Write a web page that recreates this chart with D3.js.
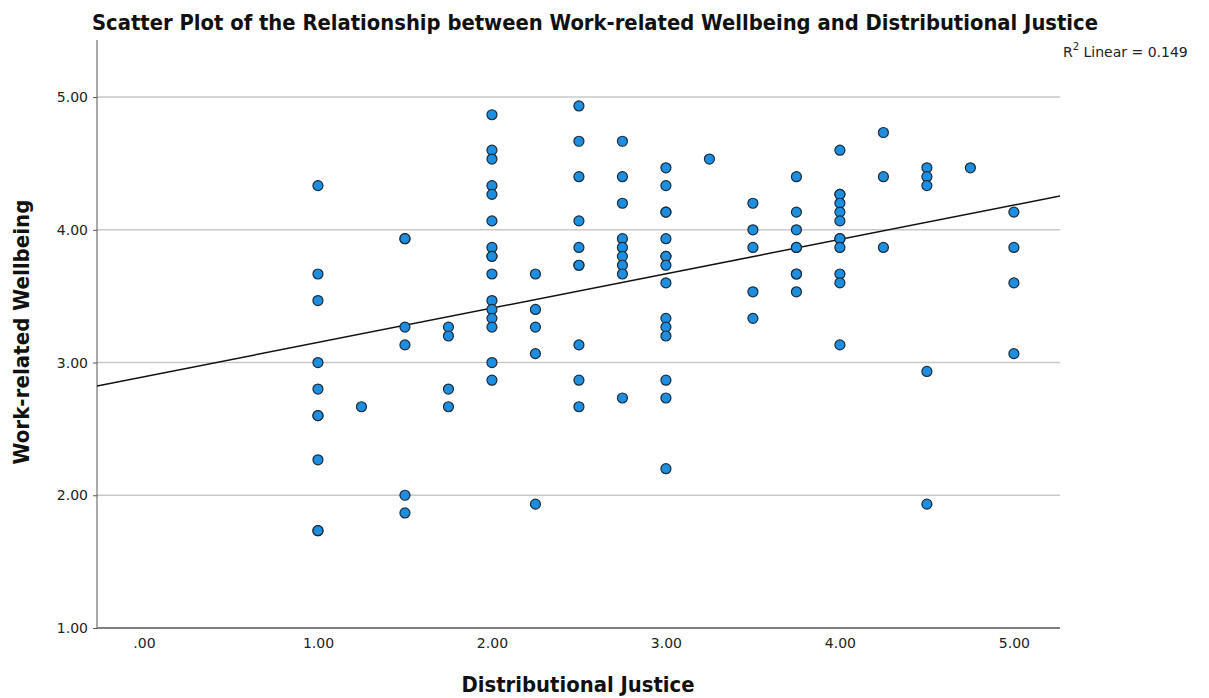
<!DOCTYPE html>
<html>
<head>
<meta charset="utf-8">
<script src="https://cdn.jsdelivr.net/npm/d3@7"></script>
<style>
  html, body { margin: 0; padding: 0; background: #fff; }
  svg { display: block; }
</style>
</head>
<body>
<svg id="chart" width="1209" height="698"></svg>
<script>
// ---- Data ----
const chartTitle = "Scatter Plot of the Relationship between Work-related Wellbeing and Distributional Justice";
const xLabel = "Distributional Justice";
const yLabel = "Work-related Wellbeing";
const r2Text = "0.149";

const xTicks = [0, 1, 2, 3, 4, 5];
const xTickLabels = [".00", "1.00", "2.00", "3.00", "4.00", "5.00"];
const yTicks = [1, 2, 3, 4, 5];
const yTickLabels = ["1.00", "2.00", "3.00", "4.00", "5.00"];
const gridValues = [2, 3, 4, 5];

// Distributional Justice levels and the Wellbeing scores observed at each level
const justiceLevels = [1.00, 1.25, 1.50, 1.75, 2.00, 2.25, 2.50, 2.75, 3.00, 3.25, 3.50, 3.75, 4.00, 4.25, 4.50, 4.75, 5.00];
const wellbeingAt100 = [4.333, 3.667, 3.467, 3.000, 2.800, 2.600, 2.600, 2.267, 1.733, 1.733];
const wellbeingAt125 = [2.667];
const wellbeingAt150 = [3.933, 3.933, 3.267, 3.133, 2.000, 1.867];
const wellbeingAt175 = [3.267, 3.200, 2.800, 2.667];
const wellbeingAt200 = [4.867, 4.600, 4.533, 4.333, 4.267, 4.067, 3.867, 3.800, 3.800, 3.667, 3.467, 3.400, 3.333, 3.267, 3.000, 2.867];
const wellbeingAt225 = [3.667, 3.400, 3.267, 3.067, 1.933];
const wellbeingAt250 = [4.933, 4.667, 4.400, 4.067, 3.867, 3.733, 3.733, 3.133, 2.867, 2.667];
const wellbeingAt275 = [4.667, 4.400, 4.200, 3.933, 3.867, 3.800, 3.733, 3.667, 2.733];
const wellbeingAt300 = [4.467, 4.333, 4.133, 4.133, 3.933, 3.800, 3.800, 3.733, 3.600, 3.333, 3.267, 3.200, 2.867, 2.733, 2.200];
const wellbeingAt325 = [4.533];
const wellbeingAt350 = [4.200, 4.000, 3.867, 3.533, 3.333];
const wellbeingAt375 = [4.400, 4.133, 4.000, 3.867, 3.867, 3.667, 3.667, 3.533];
const wellbeingAt400 = [4.600, 4.267, 4.267, 4.200, 4.133, 4.067, 3.933, 3.933, 3.867, 3.667, 3.600, 3.133];
const wellbeingAt425 = [4.733, 4.400, 3.867];
const wellbeingAt450 = [4.467, 4.400, 4.333, 2.933, 1.933];
const wellbeingAt475 = [4.467];
const wellbeingAt500 = [4.133, 3.867, 3.600, 3.067];

const wellbeingByLevel = [wellbeingAt100, wellbeingAt125, wellbeingAt150, wellbeingAt175, wellbeingAt200,
  wellbeingAt225, wellbeingAt250, wellbeingAt275, wellbeingAt300, wellbeingAt325, wellbeingAt350,
  wellbeingAt375, wellbeingAt400, wellbeingAt425, wellbeingAt450, wellbeingAt475, wellbeingAt500];

// Build point table
const points = [];
justiceLevels.forEach((x, i) => wellbeingByLevel[i].forEach(y => points.push({x, y})));

// Least-squares fit line
const mx = d3.mean(points, d => d.x), my = d3.mean(points, d => d.y);
const sxy = d3.sum(points, d => (d.x - mx) * (d.y - my));
const sxx = d3.sum(points, d => (d.x - mx) ** 2);
const slope = sxy / sxx;
const intercept = my - slope * mx;

// ---- Layout ----
const svg = d3.select("#chart");
const plot = {left: 97, right: 1060, top: 40, bottom: 628};

const x = d3.scaleLinear().domain([-0.27, 5.265]).range([plot.left, plot.right]);
const y = d3.scaleLinear().domain([1, 5.43]).range([plot.bottom, plot.top]);

const font = "'DejaVu Sans', Verdana, sans-serif";
const condensed = "'DejaVu Sans Condensed', 'DejaVu Sans', sans-serif";

// Gridlines
svg.append("g").selectAll("line").data(gridValues).join("line")
  .attr("x1", plot.left).attr("x2", plot.right)
  .attr("y1", d => y(d)).attr("y2", d => y(d))
  .attr("stroke", "#c8c8c8").attr("stroke-width", 1.5);

// Y axis
const yAxis = d3.axisLeft(y).tickValues(yTicks).tickFormat((d, i) => yTickLabels[i]).tickSize(4).tickSizeOuter(0).tickPadding(5);
const gy = svg.append("g").attr("transform", `translate(${plot.left},0)`).call(yAxis);
gy.select(".domain").attr("stroke", "#555").attr("d", `M0,${plot.top}V${plot.bottom}`);
gy.selectAll(".tick line").attr("stroke", "#555");
gy.selectAll("text").attr("font-family", font).attr("font-size", 14).attr("fill", "#222");

// X axis
const xAxis = d3.axisBottom(x).tickValues(xTicks).tickFormat((d, i) => xTickLabels[i]).tickSize(0).tickSizeOuter(0).tickPadding(10);
const gx = svg.append("g").attr("transform", `translate(0,${plot.bottom})`).call(xAxis);
gx.select(".domain").attr("stroke", "#555").attr("stroke-width", 1.5).attr("d", `M${plot.left},0H${plot.right}`);
gx.selectAll("text").attr("font-family", font).attr("font-size", 14).attr("fill", "#222");

// Clip for fit line
svg.append("clipPath").attr("id", "plotclip").append("rect")
  .attr("x", plot.left).attr("y", plot.top)
  .attr("width", plot.right - plot.left).attr("height", plot.bottom - plot.top);

const xd = x.domain();
svg.append("line")
  .attr("clip-path", "url(#plotclip)")
  .attr("x1", x(xd[0])).attr("y1", y(intercept + slope * xd[0]))
  .attr("x2", x(xd[1])).attr("y2", y(intercept + slope * xd[1]))
  .attr("stroke", "#111").attr("stroke-width", 1.5);

// Points
svg.append("g").selectAll("circle").data(points).join("circle")
  .attr("cx", d => x(d.x)).attr("cy", d => y(d.y)).attr("r", 5)
  .attr("fill", "#1e8fe0").attr("stroke", "#1b2a38").attr("stroke-width", 1.2);

// Title
svg.append("text")
  .attr("x", 595).attr("y", 30).attr("text-anchor", "middle")
  .attr("font-family", condensed).attr("font-weight", "bold")
  .attr("font-size", 21).attr("fill", "#111")
  .attr("textLength", 1006).attr("lengthAdjust", "spacingAndGlyphs")
  .text(chartTitle);

// Axis titles
svg.append("text")
  .attr("x", 578).attr("y", 692).attr("text-anchor", "middle")
  .attr("font-family", condensed).attr("font-weight", "bold")
  .attr("font-size", 21).attr("fill", "#111")
  .attr("textLength", 233).attr("lengthAdjust", "spacingAndGlyphs")
  .text(xLabel);

svg.append("text")
  .attr("transform", "translate(29,332) rotate(-90)").attr("text-anchor", "middle")
  .attr("font-family", condensed).attr("font-weight", "bold")
  .attr("font-size", 21).attr("fill", "#111")
  .attr("textLength", 265).attr("lengthAdjust", "spacingAndGlyphs")
  .text(yLabel);

// R² annotation
const r2 = svg.append("text")
  .attr("x", 1063).attr("y", 57)
  .attr("font-family", font).attr("font-size", 14).attr("fill", "#222");
r2.append("tspan").text("R");
r2.append("tspan").attr("dy", -7).attr("font-size", 10).text("2");
r2.append("tspan").attr("dy", 7).text("\u00A0Linear = " + r2Text);
</script>
</body>
</html>
